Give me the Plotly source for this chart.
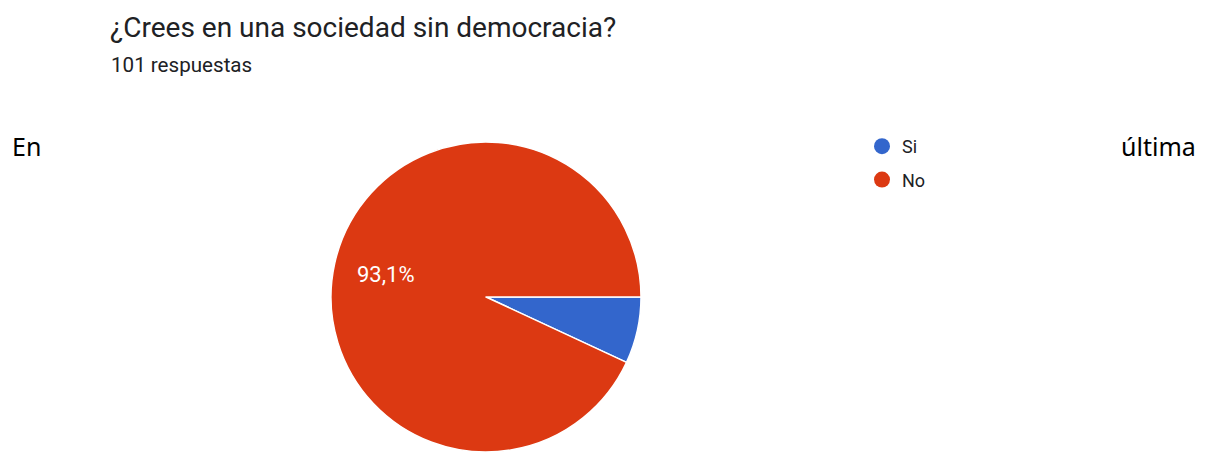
import math
import plotly.graph_objects as go

categories = ["Si", "No"]
values = [7, 94]
slice_labels = ["", "93,1%"]
colors = ["#3366cc", "#dc3912"]
title_text = "¿Crees en una sociedad sin democracia?"
subtitle_text = "101 respuestas"

W, H = 1206, 460
pie_x = [331 / W, 641 / W]
pie_y = [1 - 452 / H, 1 - 142 / H]

fig = go.Figure()
fig.add_trace(go.Pie(
    labels=categories, values=values,
    textinfo="none",
    marker=dict(colors=colors, line=dict(color="white", width=1.5)),
    sort=False, direction="clockwise", rotation=90,
    showlegend=False, hoverinfo="label+percent",
    domain=dict(x=pie_x, y=pie_y),
))
for c, col in zip(categories, colors):
    fig.add_trace(go.Scatter(
        x=[None], y=[None], mode="markers", name=c, legendgroup=c,
        marker=dict(symbol="circle", size=20, color=col),
    ))

# slice labels placed along each slice's mid-angle (derived from values)
annotations = []
total = sum(values)
cx = (pie_x[0] + pie_x[1]) / 2
cy = (pie_y[0] + pie_y[1]) / 2
rx = (pie_x[1] - pie_x[0]) / 2
ry = (pie_y[1] - pie_y[0]) / 2
start = 0.0  # degrees clockwise from 3 o'clock
for v, lab in zip(values, slice_labels):
    span = 360 * v / total
    if lab:
        mid = math.radians(start + span / 2)
        annotations.append(dict(
            text=lab, x=cx + 0.66 * rx * math.cos(mid), y=cy - 0.66 * ry * math.sin(mid),
            xref="paper", yref="paper", xanchor="center", yanchor="middle",
            showarrow=False,
            font=dict(family="Roboto", size=22, color="white")))
    start += span

annotations += [
    dict(text=title_text, x=108 / W, y=1 - 9 / H, xref="paper", yref="paper",
         xanchor="left", yanchor="top", showarrow=False,
         font=dict(family="Roboto", size=28, color="#202124")),
    dict(text=subtitle_text, x=109 / W, y=1 - 51 / H, xref="paper", yref="paper",
         xanchor="left", yanchor="top", showarrow=False,
         font=dict(family="Roboto", size=20.6, color="#202124")),
    dict(text="En", x=10 / W, y=1 - 127 / H, xref="paper", yref="paper",
         xanchor="left", yanchor="top", showarrow=False,
         font=dict(family="Noto Sans", size=25, color="#000000")),
    dict(text="última", x=1119 / W, y=1 - 127 / H, xref="paper", yref="paper",
         xanchor="left", yanchor="top", showarrow=False,
         font=dict(family="Noto Sans", size=25, color="#000000")),
]

fig.update_layout(
    width=W, height=H,
    margin=dict(l=0, r=0, t=0, b=0),
    paper_bgcolor="white", plot_bgcolor="white",
    xaxis=dict(visible=False), yaxis=dict(visible=False),
    legend=dict(x=862 / W, y=1 - 128 / H, xanchor="left", yanchor="top",
                font=dict(family="Roboto", size=18, color="#202124"),
                traceorder="grouped",
                itemsizing="trace", tracegroupgap=7, bgcolor="rgba(0,0,0,0)"),
    annotations=annotations,
)

fig.write_html("out.html")
